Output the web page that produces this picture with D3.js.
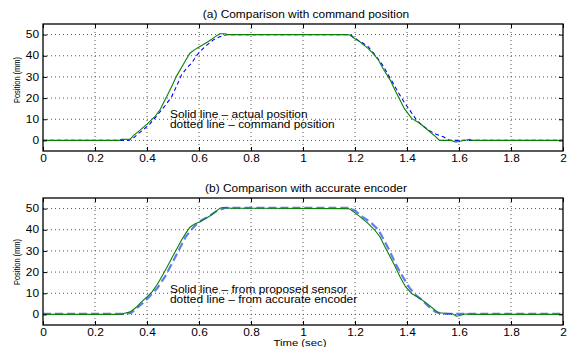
<!DOCTYPE html>
<html>
<head>
<meta charset="utf-8">
<script src="https://cdn.jsdelivr.net/npm/d3@7"></script>
<style>
  body { margin: 0; background: #fff; }
  text { font-family: "Liberation Sans", Arial, sans-serif; fill: #000; }
</style>
</head>
<body>
<svg id="chart" width="567" height="347"></svg>
<script>
// x ticks and y ticks shared by both panels
const xTicks = [0, 0.2, 0.4, 0.6, 0.8, 1, 1.2, 1.4, 1.6, 1.8, 2];
const yTicks = [0, 10, 20, 30, 40, 50];

// (a) actual position (solid green)
const actualT = [0, 0.296, 0.30, 0.335, 0.35, 0.37, 0.40, 0.43, 0.45, 0.476, 0.495, 0.514, 0.54, 0.565, 0.585, 0.604, 0.636, 0.66, 0.68, 0.70, 0.71,
  1.17, 1.18, 1.2, 1.22, 1.25, 1.27, 1.29, 1.31, 1.335, 1.355, 1.373, 1.39, 1.418, 1.45, 1.47, 1.488, 1.51, 1.525, 1.57, 1.585, 1.60, 1.615, 1.63, 1.64, 1.65, 2];
const actualPos = [0, 0, 0.5, 0.6, 2.5, 4.5, 7.7, 11.2, 14.5, 20.7, 25.5, 30.5, 36, 41.2, 43, 44.4, 46.7, 48.8, 50.4, 50.4, 50,
  50, 49.8, 48, 46.5, 43.5, 41, 38, 33.5, 28.6, 23.5, 19.1, 15, 10.4, 8, 6, 4.1, 1.8, 0, 0, -0.7, -0.6, 0, 0.2, 0.5, 0, 0];

// (a) command position (dashed blue)
const commandT = [0, 0.33, 0.35, 0.367, 0.39, 0.41, 0.44, 0.47, 0.495, 0.515, 0.533, 0.555, 0.572, 0.59, 0.604, 0.63, 0.655, 0.68, 0.706, 0.72,
  1.18, 1.21, 1.23, 1.25, 1.28, 1.31, 1.33, 1.354, 1.372, 1.392, 1.415, 1.437, 1.46, 1.482, 1.51, 1.54, 1.565, 2];
const commandPos = [0, 0, 1.3, 3.3, 5.5, 7.6, 12, 16.5, 20.7, 26, 31, 34.5, 36.5, 40, 42, 45, 47.5, 49, 49.9, 50,
  50, 47.5, 46, 44.4, 40, 34.9, 30.5, 25.4, 21.5, 17.5, 13.5, 9.6, 7, 4.9, 3, 1.7, 0, 0];

// (b) proposed sensor (solid green)
const sensorT = [0, 0.30, 0.31, 0.335, 0.36, 0.38, 0.40, 0.42, 0.438, 0.46, 0.488, 0.51, 0.533, 0.55, 0.565, 0.585, 0.604, 0.642, 0.66, 0.681, 0.69, 0.72,
  1.17, 1.18, 1.2, 1.219, 1.25, 1.275, 1.296, 1.315, 1.335, 1.355, 1.373, 1.395, 1.418, 1.45, 1.476, 1.5, 1.52, 1.575, 1.59, 1.60, 1.615, 1.63, 1.64, 2];
const sensorPos = [0, 0, 0.4, 1.2, 3.5, 6, 8.3, 10.8, 13.9, 18.5, 24.9, 30, 35.2, 38.5, 41.2, 42.8, 43.8, 46.5, 48.2, 50.2, 50.5, 50.2,
  50, 49.8, 48, 46.2, 43, 40, 36.7, 32, 27.3, 22.5, 17.8, 13, 9.9, 7.5, 5.2, 2.8, 0.8, 0.3, -0.8, -0.6, 0, 0.3, 0, 0];

// (b) accurate encoder (dashed blue)
const encoderT = [0, 0.32, 0.34, 0.36, 0.385, 0.41, 0.44, 0.47, 0.50, 0.525, 0.548, 0.57, 0.59, 0.61, 0.64, 0.67, 0.70,
  1.18, 1.2, 1.23, 1.26, 1.29, 1.31, 1.335, 1.36, 1.385, 1.41, 1.435, 1.46, 1.49, 1.51, 1.535, 2];
const encoderPos = [0.3, 0.3, 0.8, 2.8, 5.5, 8.5, 12.5, 18, 25, 31, 36.5, 40, 42.5, 44.5, 46.5, 49, 50.3,
  50.3, 49, 46, 43.5, 40, 35.5, 29.5, 23, 17.5, 12.5, 9, 6.5, 3, 1.2, 0.3, 0.3];

const panels = [
  { top: 24, title: "(a) Comparison with command position", yLabelMid: 80,
    solidT: actualT, solidV: actualPos, dashT: commandT, dashV: commandPos,
    note: ["Solid line \u2013 actual position", "dotted line \u2013 command position"], noteAt: 10.5,
    dash: "4,3", dashColor: "#0000ff", dashWidth: 1.1, dashOpacity: 1, xLabel: null },
  { top: 198, title: "(b) Comparison with accurate encoder", yLabelMid: 262,
    solidT: sensorT, solidV: sensorPos, dashT: encoderT, dashV: encoderPos,
    note: ["Solid line \u2013 from proposed sensor", "dotted line \u2013 from accurate encoder"], noteAt: 10,
    dash: "8,4", dashColor: "#3a5cf0", dashWidth: 2.2, dashOpacity: 0.8, xLabel: "Time (sec)" }
];

const svg = d3.select("#chart");
const left = 43, right = 563, plotH = 127;
const stretch = 1.19; // reference glyphs are wider than the installed sans

panels.forEach(p => {
  const x = d3.scaleLinear().domain([0, 2]).range([left, right]);
  const y = d3.scaleLinear().domain([-5, 55]).range([p.top + plotH, p.top]);
  const g = svg.append("g");

  // dotted grid
  g.selectAll(".gx").data(xTicks.slice(1, -1)).enter().append("line")
    .attr("x1", d => x(d)).attr("x2", d => x(d))
    .attr("y1", p.top).attr("y2", p.top + plotH)
    .attr("stroke", "#555").attr("stroke-width", 1).attr("stroke-dasharray", "1,3");
  g.selectAll(".gy").data(yTicks).enter().append("line")
    .attr("x1", left).attr("x2", right)
    .attr("y1", d => y(d)).attr("y2", d => y(d))
    .attr("stroke", "#555").attr("stroke-width", 1).attr("stroke-dasharray", "1,3");

  // annotation text
  p.note.forEach((s, i) => {
    g.append("text").attr("class", "wide").attr("x", 170).attr("y", y(p.noteAt) + i * 10)
      .attr("font-size", "10px").text(s);
  });

  const line = d3.line().x(d => x(d[0])).y(d => y(d[1]));

  g.append("path")
    .datum(p.dashT.map((t, i) => [t, p.dashV[i]]))
    .attr("fill", "none").attr("stroke", p.dashColor).attr("stroke-width", p.dashWidth)
    .attr("stroke-dasharray", p.dash).attr("opacity", p.dashOpacity)
    .attr("d", line);

  g.append("path")
    .datum(p.solidT.map((t, i) => [t, p.solidV[i]]))
    .attr("fill", "none").attr("stroke", "#0a800a").attr("stroke-width", 1.1)
    .attr("d", line);

  // box
  g.append("rect").attr("x", left).attr("y", p.top).attr("width", right - left).attr("height", plotH)
    .attr("fill", "none").attr("stroke", "#000").attr("stroke-width", 1.3);

  // axes with inward ticks
  const xb = g.append("g").attr("transform", `translate(0,${p.top + plotH})`)
    .call(d3.axisBottom(x).tickValues(xTicks).tickSize(-4).tickPadding(4).tickFormat(d3.format("~g")));
  const xt = g.append("g").attr("transform", `translate(0,${p.top})`)
    .call(d3.axisTop(x).tickValues(xTicks).tickSize(-4).tickFormat(""));
  const yl = g.append("g").attr("transform", `translate(${left},0)`)
    .call(d3.axisLeft(y).tickValues(yTicks).tickSize(-4).tickPadding(4));
  const yr = g.append("g").attr("transform", `translate(${right},0)`)
    .call(d3.axisRight(y).tickValues(yTicks).tickSize(-4).tickFormat(""));
  [xb, xt, yl, yr].forEach(a => {
    a.select(".domain").remove();
    a.selectAll("line").attr("stroke", "#000");
    a.selectAll("text").attr("class", "wide").attr("font-size", "10px")
      .attr("font-family", "Liberation Sans, Arial, sans-serif");
  });

  // title
  svg.append("text").attr("class", "wide").attr("x", 306).attr("y", p.top - 6).attr("text-anchor", "middle")
    .attr("font-size", "10px").text(p.title);

  // y label
  svg.append("text").attr("transform", `translate(20,${p.yLabelMid}) rotate(-90)`)
    .attr("text-anchor", "middle").attr("font-size", "9px")
    .attr("textLength", 46).attr("lengthAdjust", "spacingAndGlyphs").text("Position (mm)");

  if (p.xLabel) {
    svg.append("text").attr("class", "wide").attr("x", 300).attr("y", p.top + plotH + 21).attr("text-anchor", "middle")
      .attr("font-size", "9.5px").text(p.xLabel);
  }
});

// widen horizontal texts to match the reference glyph widths
svg.selectAll("text.wide").each(function() {
  const w = this.getComputedTextLength();
  d3.select(this).attr("textLength", w * stretch).attr("lengthAdjust", "spacingAndGlyphs");
});
</script>
</body>
</html>
